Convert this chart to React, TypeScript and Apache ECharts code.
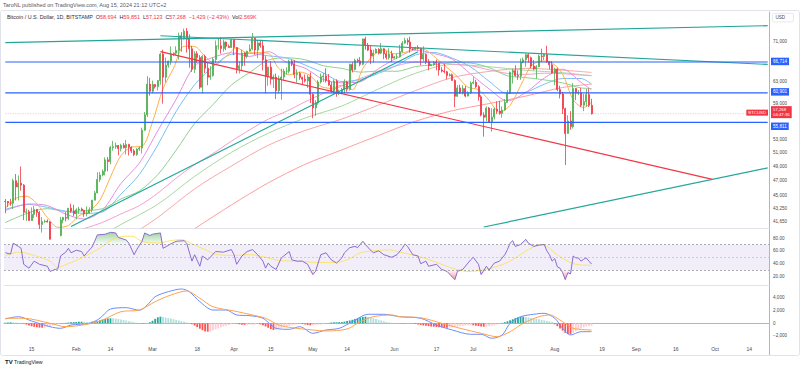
import React, { useEffect, useRef } from "react";
import * as echarts from "echarts";

const FONT = "'Liberation Sans', Arial, Helvetica, sans-serif";

// Daily candles [open, high, low, close], 2024-01-05 .. 2024-08-15
const candles: number[][] = [
  [44180,44500,42650,44160],[44160,44230,43430,43970],[43970,44490,43600,43940],[43940,47230,43200,46970],[46970,47900,44300,46110],
  [46110,47700,44300,46630],[46630,48970,45600,46350],[46350,46500,41800,42780],[42780,43250,41700,42840],[42840,43080,41720,41740],
  [41740,43400,41720,42510],[42510,43580,42050,43140],[43140,43200,42200,42740],[42740,42930,40700,41260],[41260,42170,40280,41620],
  [41620,41850,41460,41670],[41670,41890,41500,41560],[41560,41680,39450,39500],[39500,40150,38500,39850],[39850,40540,39500,40080],
  [40080,40280,39550,39930],[39930,42200,39830,41810],[41810,42200,41400,42120],[42120,42800,41630,42030],[42030,43300,41800,43300],
  [43300,43880,42700,42940],[42940,43740,42280,42580],
  [42580,43280,41880,43080],[43080,43480,42600,43180],[43180,43380,42900,42990],[42990,43110,42200,42580],[42580,43530,42260,42660],
  [42660,43400,42600,43090],[43090,44370,42780,44330],[44330,45580,44330,45300],[45300,48150,45250,47140],[47140,48170,46800,47770],
  [47770,48550,47580,48290],[48290,50330,47700,49950],[49950,50390,48300,49700],[49700,52050,49300,51800],[51800,52820,51330,51930],
  [51930,52570,51600,52120],[52120,52170,50650,51650],[51650,52380,51220,52140],[52140,52490,51670,51780],[51780,52980,50760,52280],
  [52280,52390,50600,51850],[51850,52000,50950,51300],[51300,51560,50500,50740],[50740,51690,50560,51570],[51570,51950,51300,51730],
  [51730,54940,50900,54520],[54520,57550,54460,57080],[57080,64000,56700,62500],[62500,63680,60400,61200],
  [61200,63150,60800,62430],[62430,62430,61700,62030],[62030,63200,61350,63160],[63160,68500,62400,68300],[68300,69200,59000,63800],
  [63800,67600,62800,66100],[66100,67000,65600,66900],[66900,69900,66200,68300],[68300,68650,67920,68500],[68500,69900,68100,69020],
  [69020,72800,67200,72100],[72100,72900,68800,71480],[71480,73650,71350,73080],[73080,73780,68600,71390],[71390,72400,65600,69400],
  [69400,70000,64800,65300],[65300,68900,64600,68390],[68390,68900,66600,67600],[67600,68100,61600,61930],[61930,68100,60800,67840],
  [67840,68200,64600,65500],[65500,66700,62300,63800],[63800,65900,63300,64100],[64100,67600,63900,67200],[67200,71100,66500,69990],
  [69990,71500,69200,69990],[69990,71800,68400,69450],[69450,71300,68800,70770],[70770,70900,69100,69890],[69890,70300,69600,69650],
  [69650,71350,69600,71330],
  [71330,71350,68100,69650],[69650,69700,64500,65460],[65460,66900,64500,65970],[65970,69200,65100,68500],[68500,68700,66000,67840],
  [67840,69000,67450,68900],[68900,70300,68800,69360],[69360,72700,69100,71600],[71600,71750,68200,69140],[69140,71200,67500,70600],
  [70600,71250,69600,70010],[70010,71200,65100,67150],[67150,67900,60800,63900],[63900,65800,62200,65700],[65700,66900,62400,63420],
  [63420,64300,61800,63800],[63800,64500,59800,61280],[61280,64100,60800,63470],[63470,65400,59700,63820],[63820,65400,63100,64940],
  [64940,65700,64300,64940],[64940,67200,64500,66840],[66840,67200,65900,66400],[66400,67100,63600,64290],[64290,65300,62800,64500],
  [64500,64800,63300,63760],[63760,63900,62400,63420],[63420,64300,62800,63110],[63110,64200,61800,63840],[63840,64700,59100,60640],
  [60640,60800,56500,58250],[58250,59600,56900,59120],[59120,63300,58800,62890],[62890,64500,62600,63890],[63890,64600,62900,64030],
  [64030,65500,62800,63160],[63160,64400,62200,62330],[62330,62900,60900,61190],[61190,63400,60700,63070],[63070,63400,60200,60790],
  [60790,61500,60500,60790],[60790,61800,60650,61450],[61450,63400,60800,62900],[62900,63100,61100,61550],[61550,66400,61300,66250],
  [66250,66700,64700,65230],[65230,67400,65100,67050],[67050,67400,66600,66940],[66940,67700,65900,66270],[66270,71500,66100,71450],
  [71450,71900,69200,70140],[70140,70600,68900,69120],[69120,70100,66300,67930],[67930,69200,66600,68530],[68530,69500,68500,69280],
  [69280,69500,68200,68500],[68500,70600,68300,69400],[69400,69500,67300,68360],[68360,68900,67200,67610],[67610,69500,67200,68340],
  [68340,69000,66700,67500],
  [67500,67900,67400,67750],[67750,68400,67300,67760],[67760,70200,67600,68810],[68810,71000,68600,70550],[70550,71700,70400,71100],
  [71100,71600,70200,70780],[70780,71900,68600,69340],[69340,69500,69100,69300],[69300,69800,69100,69650],[69650,70100,69200,69500],
  [69500,69600,66100,67320],[67320,69900,66900,68240],[68240,68400,66300,66760],[66760,67300,65100,66000],[66000,66400,65900,66200],
  [66200,66900,66000,66640],[66640,67200,65100,66490],[66490,66500,64100,65160],[65160,65700,64700,64960],[64960,66400,64500,64830],
  [64830,65000,63400,64100],[64100,64500,63900,64250],[64250,64500,63200,63180],[63180,63400,58400,60280],[60280,62300,60200,61800],
  [61800,62400,60700,60840],[60840,62300,60600,61680],[61680,62200,60100,60320],[60320,61200,60300,60890],[60890,63000,60700,62680],
  [62680,63800,62500,62850],[62850,63300,61800,62030],[62030,62300,59500,60200],[60200,60500,56800,57030],[57030,57500,53500,56660],
  [56660,58500,56000,58230],[58230,58400,55800,55850],[55850,58200,54300,56700],[56700,58300,56300,58040],[58040,59400,57200,57720],
  [57720,59500,57100,57340],[57340,58500,56600,57880],[57880,59800,57800,59200],[59200,61400,59200,60830],[60830,64900,60700,64710],
  [64710,65400,62600,65040],[65040,66100,63900,64100],[64100,65100,63300,63970],[63970,67400,63300,66690],[66690,67600,66500,67150],
  [67150,68400,65800,68170],[68170,68500,66600,67580],[67580,67800,65500,65940],[65940,67100,65100,65360],[65360,66100,63500,65800],
  [65800,68200,65800,67910],[67910,69400,66700,67830],[67830,68300,67100,68230],[68230,70000,66600,66770],[66770,66900,65300,66180],
  [66180,66900,64500,64620],
  [64620,65600,62300,65360],[65360,65600,61200,61500],[61500,62200,59900,60680],[60680,61100,57200,58120],[58120,58300,49200,54020],
  [54020,57000,54000,56040],[56040,57700,54600,55120],[55120,62700,54800,61700],[61700,61800,59600,60880],[60880,61400,60500,60930],
  [60930,61800,58400,58710],[58710,60700,57700,59350],[59350,61600,58500,60600],[60600,61700,58400,58700],[58694,59851,57123,57268]
];

// Moving averages: [MM-DD, price]
const maFast: [string, number][] = [["01-05",43290],["01-09",44590],["01-13",44860],["01-17",43870],["01-21",42120],["01-25",40910],["01-29",41130],["02-02",42330],["02-06",42930],["02-10",44340],["02-14",47490],["02-18",50590],["02-22",51870],["02-26",51990],["03-01",55900],["03-05",61670],["03-09",65500],["03-13",69920],["03-17",69850],["03-21",67830],["03-25",66260],["03-29",67850],["04-02",69580],["04-06",68580],["04-10",68600],["04-14",68480],["04-18",65480],["04-22",64250],["04-26",64770],["04-30",64090],["05-04",62100],["05-08",61720],["05-12",62300],["05-16",61470],["05-20",65450],["05-24",68070],["05-28",69190],["06-01",68360],["06-05",68640],["06-09",69450],["06-13",69110],["06-17",67420],["06-21",65680],["06-25",63890],["06-29",61930],["07-03",61480],["07-07",59600],["07-11",57530],["07-15",58700],["07-19",62200],["07-23",65930],["07-27",66940],["07-31",66520],["08-04",64370],["08-08",59680],["08-12",58320],["08-15",59250]];
const ma20: [string, number][] = [["01-05",43000],["01-14",43840],["01-21",43630],["01-28",42540],["02-04",41930],["02-11",43070],["02-18",46600],["02-25",49480],["03-03",54450],["03-10",59770],["03-17",65950],["03-24",67620],["03-31",68580],["04-07",67840],["04-14",68800],["04-21",66640],["04-28",65530],["05-05",63360],["05-12",62750],["05-19",62940],["05-26",65430],["06-02",67520],["06-09",69110],["06-16",68420],["06-23",67290],["06-30",64390],["07-07",61630],["07-14",59480],["07-21",60970],["07-28",63630],["08-04",65320],["08-11",62820],["08-15",61450]];
const ma30: [string, number][] = [["01-05",43150],["01-14",43780],["01-21",43400],["01-28",42910],["02-04",42640],["02-11",42820],["02-18",45140],["02-25",47850],["03-03",52220],["03-10",57660],["03-17",62370],["03-24",65820],["03-31",68250],["04-07",68420],["04-14",67960],["04-21",67520],["04-28",66140],["05-05",64600],["05-12",62980],["05-19",63360],["05-26",64520],["06-02",66100],["06-09",68120],["06-16",68640],["06-23",67500],["06-30",65770],["07-07",63040],["07-14",60790],["07-21",61030],["07-28",62470],["08-04",63550],["08-11",63540],["08-15",62500]];
const ma50: [string, number][] = [["01-05",41500],["01-14",42730],["01-21",43240],["01-28",42880],["02-04",42970],["02-11",43240],["02-18",44490],["02-25",45570],["03-03",47810],["03-10",51410],["03-17",55610],["03-24",58820],["03-31",62340],["04-07",64710],["04-14",67100],["04-21",67560],["04-28",67180],["05-05",65990],["05-12",65480],["05-19",64760],["05-26",64950],["06-02",64920],["06-09",65820],["06-16",66190],["06-23",66610],["06-30",66520],["07-07",65640],["07-14",64060],["07-21",63720],["07-28",63290],["08-04",62730],["08-11",61800],["08-15",61700]];
const ma100: [string, number][] = [["01-05",36800],["01-14",38210],["01-21",39290],["01-28",40120],["02-04",40760],["02-11",41520],["02-18",42570],["02-25",43630],["03-03",45270],["03-10",47320],["03-17",49240],["03-24",50890],["03-31",52790],["04-07",54600],["04-14",56340],["04-21",57680],["04-28",59300],["05-05",60800],["05-12",62150],["05-19",63550],["05-26",64830],["06-02",66010],["06-09",66690],["06-16",66690],["06-23",66300],["06-30",66000],["07-07",65200],["07-14",64510],["07-21",64320],["07-28",64550],["08-04",64460],["08-11",64200],["08-15",64100]];
const ma120: [string, number][] = [["01-21",37150],["02-04",38860],["02-18",41260],["03-03",43800],["03-17",47570],["03-31",51070],["04-14",54050],["04-28",56530],["05-12",58580],["05-26",61620],["06-09",64530],["06-23",66240],["07-07",65800],["07-21",65110],["08-04",64650],["08-15",64060]];
const ma140: [string, number][] = [["01-21",35510],["02-04",37090],["02-18",39260],["03-03",42130],["03-17",45840],["03-31",49050],["04-14",52150],["04-28",54480],["05-12",56360],["05-26",58750],["06-09",61310],["06-23",63720],["07-07",64890],["07-21",65490],["08-04",65130],["08-15",64700]];
const ma200: [string, number][] = [["01-07",32520],["02-04",34290],["03-03",37670],["03-17",40730],["03-31",43710],["04-14",46660],["04-28",49290],["05-12",51450],["05-26",53700],["06-09",55980],["06-23",57770],["07-07",59000],["07-21",60330],["08-04",61880],["08-15",62500]];

// Drawn trend lines: [MM-DD, price] -> [MM-DD, price]
const trendLines: { a: [string, number]; b: [string, number]; color: string }[] = [
  { a: ["01-05", 70650], b: ["10-21", 74300], color: "#22a699" },
  { a: ["03-04", 72120], b: ["10-21", 66250], color: "#22a699" },
  { a: ["03-04", 68790], b: ["09-30", 47160], color: "#f23645" },
  { a: ["07-05", 40950], b: ["10-21", 48770], color: "#22a699" },
  { a: ["01-30", 41010], b: ["06-10", 68770], color: "#22a699" },
];
const priceLevels = [66714, 60901, 55811];
const lastPrice = 57268;

// RSI and its moving average
const rsi: [string, number][] = [["01-05",57],["01-07",55],["01-08",72],["01-10",67],["01-11",64],["01-12",39],["01-14",33],["01-16",44],["01-18",39],["01-21",36],["01-22",28],["01-24",31],["01-25",32],["01-26",52],["01-28",58],["01-29",64],["01-30",57],["02-01",61],["02-03",59],["02-04",52],["02-05",57],["02-07",66],["02-08",75],["02-09",85],["02-12",86],["02-14",89],["02-16",88],["02-17",81],["02-20",77],["02-21",72],["02-23",54],["02-24",62],["02-26",75],["02-27",88],["02-29",84],["03-01",86],["03-04",88],["03-05",64],["03-08",71],["03-10",75],["03-13",76],["03-14",72],["03-16",44],["03-17",54],["03-19",36],["03-20",52],["03-22",46],["03-25",59],["03-28",58],["03-31",62],["04-01",54],["04-02",39],["04-04",52],["04-06",59],["04-08",62],["04-10",54],["04-12",44],["04-13",33],["04-14",41],["04-15",36],["04-17",31],["04-19",49],["04-22",59],["04-23",46],["04-25",44],["04-27",44],["04-29",39],["05-01",23],["05-02",28],["05-04",54],["05-06",57],["05-08",46],["05-10",41],["05-12",49],["05-13",57],["05-15",65],["05-17",67],["05-18",65],["05-20",75],["05-22",65],["05-24",57],["05-26",60],["05-28",54],["05-31",50],["06-02",54],["06-04",64],["06-05",71],["06-06",67],["06-08",54],["06-10",52],["06-11",40],["06-13",44],["06-14",36],["06-17",39],["06-19",31],["06-21",28],["06-24",15],["06-25",28],["06-27",31],["06-30",46],["07-01",50],["07-03",39],["07-04",23],["07-06",36],["07-07",30],["07-09",41],["07-11",44],["07-13",54],["07-14",62],["07-15",72],["07-16",76],["07-17",67],["07-19",70],["07-21",78],["07-22",72],["07-24",67],["07-26",69],["07-28",70],["07-29",60],["07-30",54],["07-31",44],["08-01",48],["08-02",35],["08-03",33],["08-04",26],["08-05",15],["08-06",26],["08-07",24],["08-08",52],["08-09",49],["08-10",49],["08-11",44],["08-12",47],["08-13",49],["08-14",44],["08-15",39.5]];
const rsiMa: [string, number][] = [["01-05",52],["01-10",58],["01-15",54],["01-22",44],["01-25",34.5],["01-28",38.5],["02-03",49],["02-10",64.5],["02-16",80],["02-22",83],["02-26",75],["03-03",72.3],["03-08",76],["03-12",77.5],["03-16",71],["03-21",62],["03-26",54],["04-01",53],["04-07",54],["04-13",50],["04-19",44.7],["04-26",43.7],["05-03",42],["05-09",42],["05-14",46],["05-19",56.7],["05-24",60],["05-30",61.5],["06-03",58],["06-10",51.6],["06-16",43.7],["06-23",33],["06-29",28],["07-05",30.6],["07-12",38.5],["07-17",49],["07-22",62],["07-27",69.7],["07-29",67],["08-02",54],["08-06",43.7],["08-10",38.5],["08-15",37.5]];

// MACD
const macdLine: [string, number][] = [["01-05",680],["01-10",1040],["01-15",360],["01-22",-535],["01-26",-790],["01-30",-270],["02-06",0],["02-10",790],["02-14",2250],["02-20",2460],["02-25",2050],["02-28",2880],["03-02",4190],["03-07",4980],["03-12",5400],["03-15",4980],["03-19",3400],["03-24",2090],["03-29",2090],["04-02",1310],["04-07",1200],["04-12",790],["04-17",-790],["04-22",-945],["04-26",-535],["05-01",-1575],["05-06",-1055],["05-11",-790],["05-16",250],["05-22",1420],["05-28",1420],["06-03",1040],["06-11",790],["06-17",-270],["06-23",-1055],["06-30",-1730],["07-04",-1730],["07-08",-2360],["07-12",-1840],["07-15",0],["07-19",1040],["07-24",1420],["07-28",1575],["08-01",790],["08-04",-790],["08-07",-1840],["08-11",-1320],["08-15",-1320]];
const macdSignal: [string, number][] = [["01-05",790],["01-12",790],["01-22",0],["01-28",-535],["02-05",-160],["02-11",520],["02-18",1830],["02-25",2090],["03-02",3400],["03-08",4460],["03-14",5090],["03-19",3940],["03-24",2610],["04-01",1940],["04-08",1310],["04-13",790],["04-18",-270],["04-23",-690],["05-01",-1055],["05-06",-1210],["05-14",-900],["05-19",250],["05-24",1040],["05-31",1310],["06-03",1040],["06-11",880],["06-19",0],["06-26",-790],["07-04",-1575],["07-10",-2110],["07-15",-1320],["07-20",0],["07-26",1040],["07-30",1310],["08-04",250],["08-08",-790],["08-15",-1055]];
const macdHist: number[] = [
  100,140,160,150,120,90,60,
  -50,-200,-350,-450,-550,-620,-680,
  -690,-650,-560,-450,-330,
  -220,-120,-40,30,80,
  120,160,190,210,230,250,240,220,200,230,
  300,380,480,580,680,760,790,780,740,
  680,600,520,430,340,250,160,80,20,
  -60,-80,-30,
  150,400,700,950,1040,
  980,900,820,740,640,540,440,340,240,140,50,
  -150,-350,-600,-850,-1100,-1280,-1320,-1250,
  -1100,-950,-800,-650,-500,-380,-260,-150,-60,
  -80,-150,-220,-240,-230,-210,-190,-170,-150,-180,
  -300,-500,-700,-900,-1050,-1000,
  -880,-760,-640,-520,-420,-320,-220,-130,-50,
  -120,-200,-280,-320,-300,-260,-220,-180,
  -100,-20,60,120,150,170,180,200,260,
  350,450,560,680,800,920,1000,1040,
  980,900,800,680,560,440,320,200,
  120,80,60,40,30,40,60,50,20,-20,
  -100,-180,-260,-340,-400,-450,-500,-540,-580,-620,-660,-690,-690,-670,-640,
  -580,-520,-460,-400,-350,-320,-300,-320,-380,
  -440,-500,-540,-520,-480,-420,
  -300,-180,-60,60,
  180,320,480,640,800,920,1000,1040,
  1000,940,860,780,700,620,540,460,380,300,220,
  -150,-450,-800,-1150,-1500,-1700,-1720,
  -1500,-1250,-1000,-800,-640,-520,-440,-380
];

// Axis ticks
const priceTicks = [71000, 63000, 59000, 53000, 51000, 49000, 47000, 45000, 43250, 41650];
const rsiTicks = [80, 60, 40, 20];
const macdTicks = [4000, 2000, 0, -2000];
const timeTicks: [string, string][] = [["01-15","15"],["02-01","Feb"],["02-14","14"],["03-01","Mar"],["03-18","18"],["04-01","Apr"],["04-15","15"],["05-01","May"],["05-14","14"],["06-01","Jun"],["06-17","17"],["07-01","Jul"],["07-15","15"],["08-01","Aug"],["08-19","19"],["09-01","Sep"],["09-16","16"],["10-01","Oct"],["10-14","14"]];

const AXIS_DAYS = 291;
const firstDay = Date.UTC(2024, 0, 5);
const categories: string[] = Array.from({ length: AXIS_DAYS }, (_, i) => {
  const d = new Date(firstDay + i * 86400000);
  return String(d.getUTCMonth() + 1).padStart(2, "0") + "-" + String(d.getUTCDate()).padStart(2, "0");
});

const fmt = (v: number) => Math.round(v).toLocaleString("en-US");

function buildOption(): any {
  const L = Math.log;
  const idx = (md: string) => categories.indexOf(md);
  const lnPts = (arr: [string, number][]) => arr.map(([d, v]) => [idx(d), L(v)]);
  const rawPts = (arr: [string, number][]) => arr.map(([d, v]) => [idx(d), v]);
  const tickMap: Record<string, string> = {};
  timeTicks.forEach(([d, t]) => (tickMap[d] = t));
  const lastIdx = categories.length - 1;

  const lnMin = 10.6172, lnMax = 11.2563;
  const axisLabel = { fontSize: 4.6, color: "#4a4a4a", margin: 4, fontFamily: FONT };
  const GREEN = "#4caf50", RED = "#f23645", BLUE = "#2962ff";

  const maDefs: { data: [string, number][]; color: string }[] = [
    { data: ma200, color: "#ff9e9e" },
    { data: ma140, color: "#f7a8a8" },
    { data: ma120, color: "#a8d8a0" },
    { data: ma100, color: "#f3a0cc" },
    { data: ma50, color: "#8fd18f" },
    { data: ma30, color: "#7cc0f5" },
    { data: ma20, color: "#e58fe0" },
    { data: maFast, color: "#ffb04a" },
  ];

  const hist = macdHist.map((v, i) => {
    const p = i > 0 ? macdHist[i - 1] : v;
    const c = v >= 0 ? (v >= p ? "#26a69a" : "#b2dfdb") : v <= p ? "#ff5252" : "#ffcdd2";
    return { value: v, itemStyle: { color: c } };
  });

  const series: any[] = [];
  maDefs.forEach((m) =>
    series.push({
      type: "line", xAxisIndex: 0, yAxisIndex: 0, data: lnPts(m.data), symbol: "none",
      connectNulls: true, smooth: 0.3, silent: true, z: 2,
      lineStyle: { color: m.color, width: 1 },
    })
  );
  series.push({
    type: "candlestick", xAxisIndex: 0, yAxisIndex: 0, z: 3, clip: true, barWidth: 1.5,
    data: candles.map(([o, h, l, c]) => [L(o), L(c), L(l), L(h)]),
    itemStyle: { color: GREEN, color0: RED, borderColor: GREEN, borderColor0: RED, borderWidth: 0.8 },
  });
  trendLines.forEach((t) =>
    series.push({
      type: "line", xAxisIndex: 0, yAxisIndex: 0, symbol: "none", silent: true, z: 4,
      data: [[idx(t.a[0]), L(t.a[1])], [idx(t.b[0]), L(t.b[1])]],
      lineStyle: { color: t.color, width: 1.2 },
    })
  );
  // horizontal drawn levels (blue), drawn as flat line series
  priceLevels.forEach((p) =>
    series.push({
      type: "line", xAxisIndex: 0, yAxisIndex: 0, symbol: "none", silent: true, z: 5,
      data: [[0, L(p)], [lastIdx, L(p)]],
      lineStyle: { color: BLUE, width: 1.1, type: "solid" }, itemStyle: { color: BLUE },
    })
  );
  // last-price dotted line
  series.push({
    type: "line", xAxisIndex: 0, yAxisIndex: 0, symbol: "none", silent: true, z: 5,
    data: [[0, L(lastPrice)], [lastIdx, L(lastPrice)]],
    lineStyle: { color: "rgba(242,54,69,0.4)", width: 0.8, type: [1, 1.5] }, itemStyle: { color: RED },
  });
  // price-scale labels for levels and last price
  series.push({
    type: "line", xAxisIndex: 0, yAxisIndex: 0, symbol: "none", silent: true, z: 6,
    data: [], lineStyle: { opacity: 0 },
    markLine: {
      symbol: "none", silent: true, animation: false,
      lineStyle: { color: "rgba(0,0,0,0)", width: 0.1 },
      data: [
        ...priceLevels.map((p, k) => ({
          yAxis: L(p),
          lineStyle: { color: "rgba(0,0,0,0)", width: 0.1 },
          label: {
            show: true, position: "end", distance: 2, formatter: fmt(p), color: "#fff",
            backgroundColor: BLUE, fontSize: 4.6, padding: [1.5, 2, 1, 2], fontFamily: FONT,
            offset: k === 2 ? [0, 4] : [0, 0],
          },
        })),
        {
          yAxis: L(lastPrice),
          lineStyle: { color: "rgba(0,0,0,0)", width: 0.1 },
          label: {
            show: true, position: "end", distance: 2, formatter: fmt(lastPrice) + "\n04:47:36",
            color: "#fff", backgroundColor: RED, fontSize: 4.3, lineHeight: 5, padding: [1, 2, 1, 2], fontFamily: FONT,
          },
        },
        {
          yAxis: L(lastPrice),
          lineStyle: { color: "rgba(0,0,0,0)", width: 0.1 },
          label: {
            show: true, position: "insideEndTop", distance: 0, offset: [-1, 3.5], formatter: "BTCUSD",
            color: "#fff", backgroundColor: RED, fontSize: 4.3, padding: [1, 2, 1, 2], fontFamily: FONT,
          },
        },
      ],
    },
  });

  // RSI pane
  const rsiPts = rawPts(rsi);
  series.push({
    type: "line", xAxisIndex: 1, yAxisIndex: 1, data: rsiPts.map(([x, v]) => [x, Math.max(v, 70)]),
    symbol: "none", connectNulls: true, silent: true, z: 2, lineStyle: { opacity: 0 },
    areaStyle: { origin: 70, color: new echarts.graphic.LinearGradient(0, 0, 0, 1, [
      { offset: 0, color: "rgba(76,175,80,0.75)" }, { offset: 1, color: "rgba(76,175,80,0.05)" }]) },
  });
  series.push({
    type: "line", xAxisIndex: 1, yAxisIndex: 1, data: rsiPts.map(([x, v]) => [x, Math.min(v, 30)]),
    symbol: "none", connectNulls: true, silent: true, z: 2, lineStyle: { opacity: 0 },
    areaStyle: { origin: 30, color: new echarts.graphic.LinearGradient(0, 1, 0, 0, [
      { offset: 0, color: "rgba(242,54,69,0.75)" }, { offset: 1, color: "rgba(242,54,69,0.05)" }]) },
  });
  series.push({
    type: "line", xAxisIndex: 1, yAxisIndex: 1, data: rawPts(rsiMa), symbol: "none",
    connectNulls: true, smooth: 0.4, silent: true, z: 3, lineStyle: { color: "#fbe36a", width: 1 },
  });
  series.push({
    type: "line", xAxisIndex: 1, yAxisIndex: 1, data: rsiPts, symbol: "none",
    connectNulls: true, silent: true, z: 4, lineStyle: { color: "#8c6bd0", width: 1 },
    markArea: { silent: true, data: [[{ yAxis: 70 }, { yAxis: 30 }]], itemStyle: { color: "rgba(126,87,194,0.1)" } },
    markLine: {
      symbol: "none", silent: true, label: { show: false },
      lineStyle: { color: "#9598a1", type: [2, 2], width: 0.8 },
      data: [{ yAxis: 70 }, { yAxis: 50, lineStyle: { color: "#9598a1", type: [2, 2], width: 0.8, opacity: 0.5 } }, { yAxis: 30 }],
    },
  });

  // MACD pane
  series.push({
    type: "bar", xAxisIndex: 2, yAxisIndex: 2, data: hist, barWidth: 1.8, silent: true, z: 2,
    markLine: {
      symbol: "none", silent: true, label: { show: false },
      lineStyle: { color: "#b2b5be", type: [2, 2], width: 0.8 }, data: [{ yAxis: 0 }],
    },
  });
  series.push({
    type: "line", xAxisIndex: 2, yAxisIndex: 2, data: rawPts(macdLine), symbol: "none",
    connectNulls: true, smooth: 0.3, silent: true, z: 3, lineStyle: { color: "#6b8cff", width: 1 },
  });
  series.push({
    type: "line", xAxisIndex: 2, yAxisIndex: 2, data: rawPts(macdSignal), symbol: "none",
    connectNulls: true, smooth: 0.3, silent: true, z: 3, lineStyle: { color: "#ffa24d", width: 1 },
  });

  const xAxes = [0, 1, 2].map((g) => ({
    type: "category", gridIndex: g, data: categories, boundaryGap: true,
    axisTick: { show: false }, splitLine: { show: false },
    axisLine: { show: true, lineStyle: { color: g === 2 ? "#b2b5be" : "#e0e3eb", width: 1 } },
    axisLabel: g === 2 ? {
      show: true, interval: (_i: number, v: string) => v in tickMap,
      formatter: (v: string) => tickMap[v] || "", fontSize: 5, color: "#4a4a4a", margin: 4, fontFamily: FONT,
    } : { show: false },
  }));

  const yBase = {
    type: "value", position: "right", splitLine: { show: false }, axisTick: { show: false },
    axisLine: { show: true, lineStyle: { color: "#b2b5be", width: 1 } },
  };

  return {
    animation: false,
    backgroundColor: "#ffffff",
    textStyle: { fontFamily: FONT },
    grid: [
      { left: 4, right: 31, top: 12, height: 216 },
      { left: 4, right: 31, top: 229, height: 56 },
      { left: 4, right: 31, top: 286, height: 56 },
    ],
    xAxis: xAxes,
    yAxis: [
      { ...yBase, gridIndex: 0, min: lnMin, max: lnMax,
        axisLabel: { ...axisLabel, customValues: priceTicks.map(L), formatter: (v: number) => fmt(Math.exp(v)) } },
      { ...yBase, gridIndex: 1, min: 6.7, max: 94.2,
        axisLabel: { ...axisLabel, customValues: rsiTicks, formatter: (v: number) => v.toFixed(2) } },
      { ...yBase, gridIndex: 2, min: -2945, max: 5874,
        axisLabel: { ...axisLabel, customValues: macdTicks,
          formatter: (v: number) => (v < 0 ? "\u2212" : "") + fmt(Math.abs(v)) } },
    ],
    series,
    graphic: [
      { type: "rect", shape: { x: 0.5, y: 10.5, width: 799, height: 345, r: 2 }, style: { fill: "none", stroke: "#e0e3eb", lineWidth: 1 }, silent: true, z: 0 },
      { type: "line", shape: { x1: 769.5, y1: 342, x2: 769.5, y2: 355 }, style: { stroke: "#b2b5be", lineWidth: 1 }, silent: true },
      { type: "text", left: 3, top: 2.3, silent: true,
        style: { text: "TaroNL published on TradingView.com, Aug 15, 2024 21:12 UTC+2", fontSize: 5.5, fill: "#555a66", fontFamily: FONT } },
      { type: "text", left: 7, top: 14, silent: true,
        style: {
          text: "{t|Bitcoin / U.S. Dollar, 1D, BITSTAMP}  {l|O}{v|58,694}  {l|H}{v|59,851}  {l|L}{v|57,123}  {l|C}{v|57,268}  {v|\u22121,429 (\u22122.43%)}  {l|Vol}{v|2.569K}",
          fontSize: 5.4, fontFamily: FONT,
          rich: {
            t: { fill: "#2a2e39", fontSize: 5.4, fontFamily: FONT },
            l: { fill: "#2a2e39", fontSize: 5.4, fontFamily: FONT },
            v: { fill: "#f23645", fontSize: 5.4, fontFamily: FONT },
          },
        } },
      { type: "group", left: 772, top: 13, silent: true, children: [
        { type: "rect", shape: { x: 0, y: 0, width: 21, height: 8.5, r: 1 }, style: { fill: "#fff", stroke: "#e0e3eb", lineWidth: 0.8 } },
        { type: "text", x: 3, y: 2, style: { text: "USD", fontSize: 4.6, fill: "#4a4a4a", fontFamily: FONT } },
      ] },
      { type: "group", left: 5, top: 359, silent: true, children: [
        { type: "text", x: 0, y: 0, style: { text: "TV", fontSize: 6, fontWeight: 900, fill: "#131722", fontFamily: FONT } },
        { type: "text", x: 9, y: 0.5, style: { text: "TradingView", fontSize: 5.2, fill: "#131722", fontFamily: FONT } },
      ] },
    ],
  };
}

export default function App() {
  const ref = useRef<HTMLDivElement>(null);
  useEffect(() => {
    if (!ref.current) return;
    const chart = echarts.init(ref.current, null, { renderer: "svg" });
    chart.setOption(buildOption());
    return () => chart.dispose();
  }, []);
  return (
    <div
      ref={ref}
      style={{ position: "fixed", left: 0, top: 0, width: 800, height: 370, background: "#fff" }}
    />
  );
}
